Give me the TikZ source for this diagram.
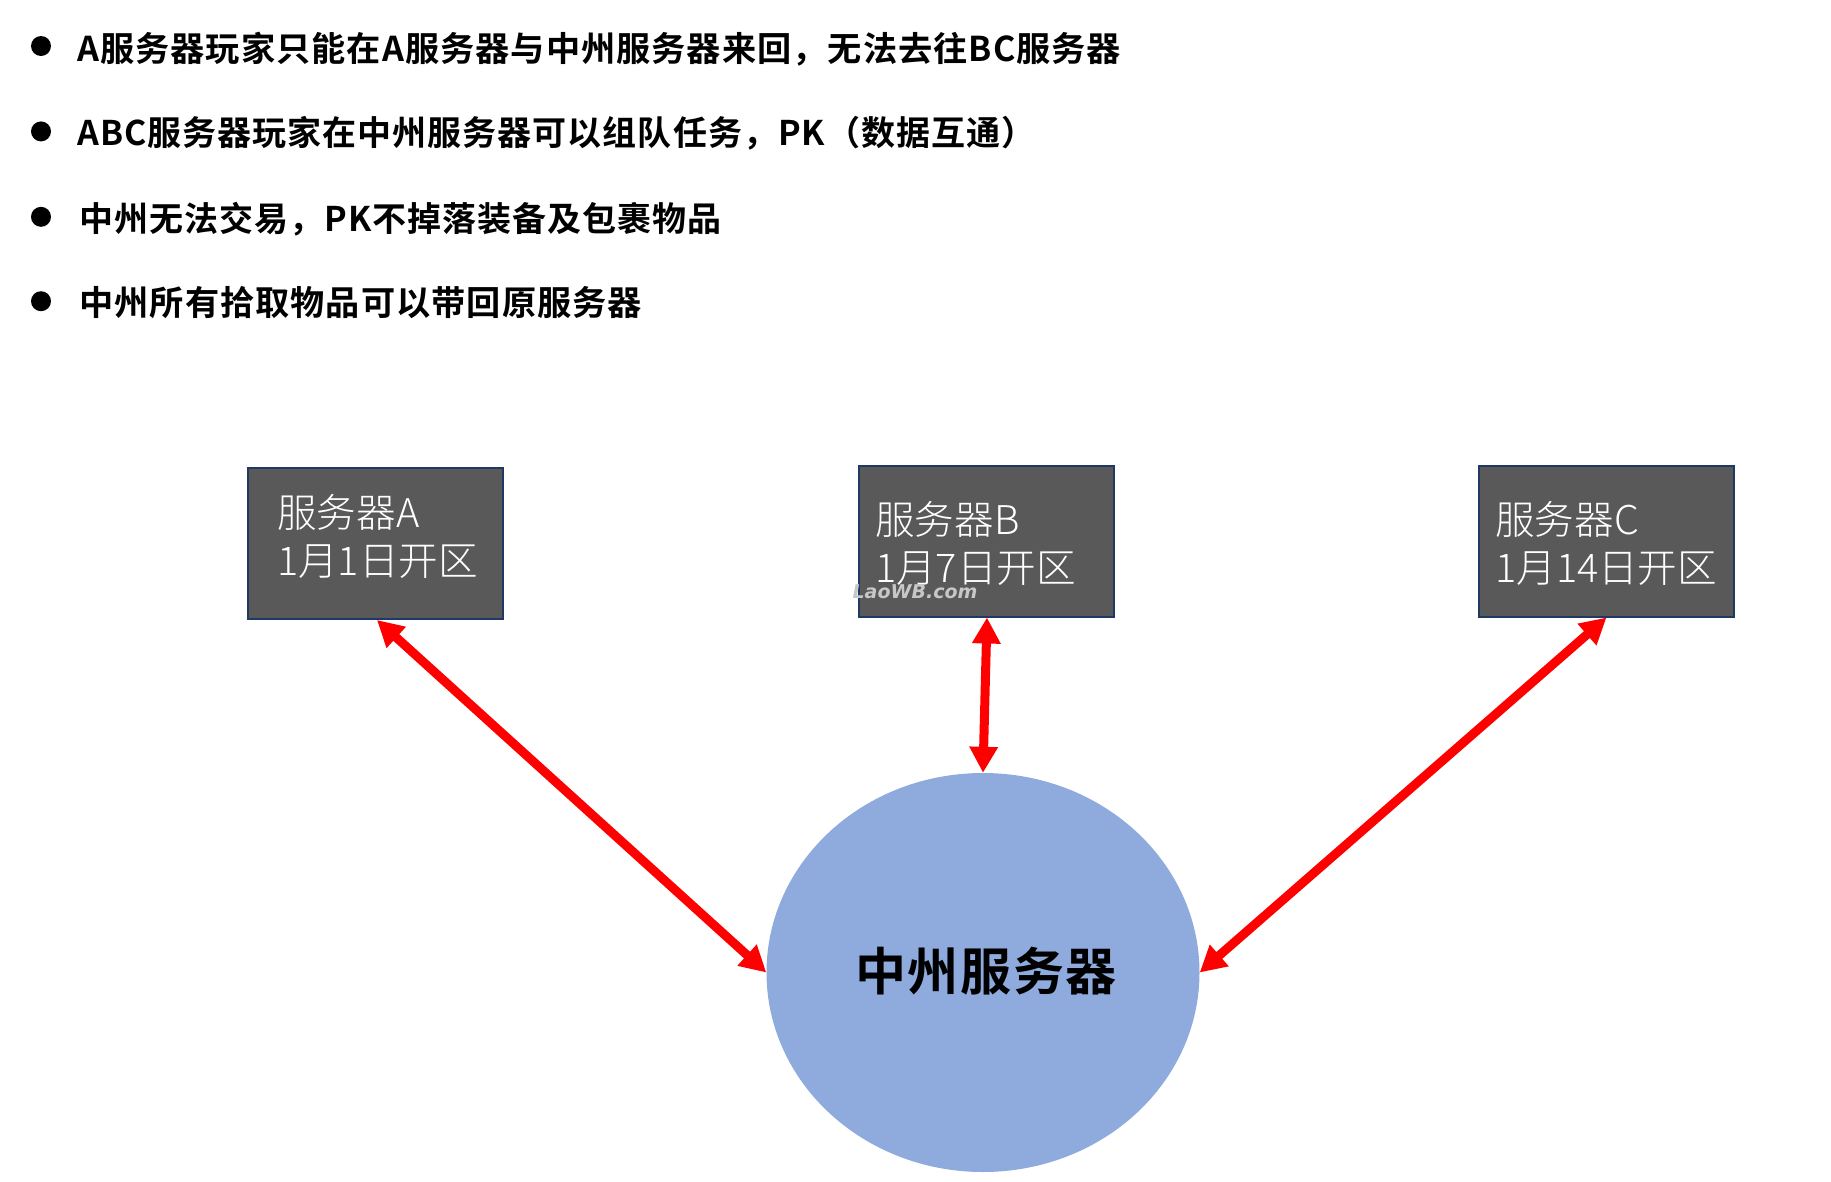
\documentclass[tikz,border=0pt]{standalone}
\usepackage{fontspec}
\usetikzlibrary{positioning,arrows.meta,shapes.geometric}
\newfontfamily\cjknote[LetterSpace=3]{Noto Sans CJK SC Bold}
\newfontfamily\cjkthin{Noto Sans CJK SC Light}
\newfontfamily\markfont{DejaVu Sans}
\definecolor{boxfill}{HTML}{595959}
\definecolor{boxline}{HTML}{1F3864}
\definecolor{hubfill}{HTML}{8FAADC}
\tikzset{bullet node/.style={circle,fill=black,minimum size=20pt,inner sep=0pt},
	note node/.style={inner sep=0pt,font=\cjknote\fontsize{34pt}{40pt}\selectfont},
	wide note/.style={font=\cjknote\fontsize{34.2pt}{40pt}\selectfont},
	server node/.style={rectangle,draw=boxline,fill=boxfill,line width=2pt,minimum width=255pt,minimum height=151pt,inner sep=0pt},
	server text/.style={anchor=west,inner sep=0pt,align=left,text=white,font=\cjkthin\fontsize{39.6pt}{48pt}\selectfont},
	hub node/.style={ellipse,fill=hubfill,minimum width=433pt,minimum height=399pt,inner sep=0pt},
	link/.style={red,line width=9pt,{Triangle[length=26pt,width=27pt]}-{Triangle[length=26pt,width=27pt]}},
}
\begin{document}
\begin{tikzpicture}[x=1pt,y=-1pt]
	\useasboundingbox (0,0) rectangle (1831,1181);
	\node[bullet node] (b1) at (41,46){};
	\node[bullet node] (b2)[below = 65pt of b1]{};
	\node[bullet node] (b3)[below = 65pt of b2]{};
	\node[bullet node] (b4)[below = 64pt of b3]{};
	\node[note node,wide note,yshift=-3.4pt] (n1)[right = 26pt of b1]{A服务器玩家只能在A服务器与中州服务器来回，无法去往BC服务器};
	\node[note node,yshift=-2.2pt] (n2)[right = 26pt of b2]{ABC服务器玩家在中州服务器可以组队任务，PK（数据互通）};
	\node[note node,yshift=-2.2pt] (n3)[right = 28pt of b3]{中州无法交易，PK不掉落装备及包裹物品};
	\node[note node,wide note,yshift=-1pt] (n4)[right = 28pt of b4]{中州所有拾取物品可以带回原服务器};

	\node[server node] (A) at (375,543.5){};
	\node[server node] (B) at (986,541){};
	\node[server node] (C) at (1606.5,541){};
	\node[server text] (textA) at (277,536){服务器A\\1月1日开区};
	\node[server text] (textB) at (875,543){服务器B\\1月7日开区};
	\node[server text] (textC) at (1495,543){服务器C\\1月14日开区};
	\node[inner sep=0pt,text=black!22,font=\markfont\bfseries\itshape\fontsize{19pt}{20pt}\selectfont] (mark) at (915,592){LaoWB.com};

	\node[hub node] (hub) at (983,972.5){};
	\node[inner sep=0pt,font=\cjknote\fontsize{51pt}{58pt}\selectfont] (hubtext) at (986,971){中州服务器};

	\path[draw]
	([xshift=2pt]A.south) edge[link] (hub.west)
	([xshift=1pt]B.south) edge[link] (hub.north)
	(C.south) edge[link] (hub.east);
\end{tikzpicture}
\end{document}
